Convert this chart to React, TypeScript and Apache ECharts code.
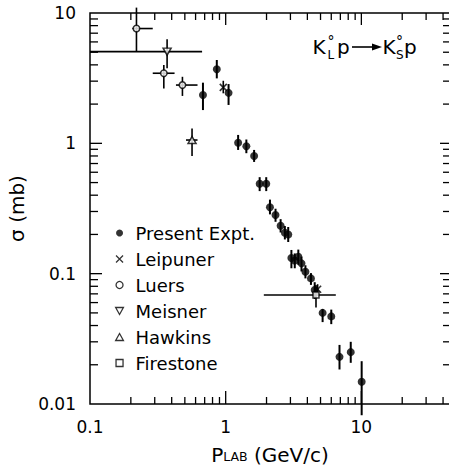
import React, { useEffect, useRef } from "react";
import * as echarts from "echarts";

const FONT = '"DejaVu Sans", "Liberation Sans", sans-serif';
const INK = "#000";

// Axis ranges (log-log)
const X_MIN = 0.1;
const X_MAX = 45;
const Y_MIN = 0.01;
const Y_MAX = 10;

// Labelled decades and the multiples that get tick marks
const X_TICK_LABELS = ["0.1", "1", "10"];
const Y_TICK_LABELS = ["0.01", "0.1", "1", "10"];
const X_DECADES = [0.1, 1, 10];
const Y_DECADES = [0.01, 0.1, 1];
const MULTIPLES = [1, 2, 3, 4, 5, 6, 7, 8, 9];

const SERIES_NAMES = ["Present Expt.", "Leipuner", "Luers", "Meisner", "Hawkins", "Firestone"];

// Present experiment: P_lab (GeV/c), sigma (mb), error band low/high
const presentP = [0.68, 0.86, 1.05, 1.235, 1.42, 1.62, 1.78, 1.99, 2.12, 2.33, 2.54, 2.73, 2.89, 3.05, 3.23, 3.43, 3.62, 3.87, 4.25, 4.53, 5.18, 6.0, 6.9, 8.35, 10.05];
const presentSigma = [2.35, 3.7, 2.44, 1.01, 0.95, 0.8, 0.49, 0.49, 0.323, 0.282, 0.233, 0.206, 0.2, 0.132, 0.126, 0.135, 0.12, 0.1035, 0.092, 0.075, 0.05, 0.047, 0.023, 0.025, 0.0148];
const presentLo = [1.8, 3.15, 1.97, 0.89, 0.84, 0.72, 0.43, 0.43, 0.285, 0.25, 0.207, 0.183, 0.175, 0.11, 0.11, 0.117, 0.104, 0.092, 0.082, 0.064, 0.0425, 0.041, 0.0184, 0.0207, 0.0082];
const presentHi = [2.92, 4.36, 2.85, 1.16, 1.07, 0.89, 0.55, 0.55, 0.37, 0.315, 0.262, 0.232, 0.228, 0.152, 0.143, 0.153, 0.135, 0.116, 0.101, 0.086, 0.0535, 0.053, 0.0284, 0.03, 0.0213];

// Leipuner
const leipP = [0.96, 4.76];
const leipSigma = [2.69, 0.076];
const leipLo = [2.42, 0.07];
const leipHi = [3.02, 0.083];

// Luers (with momentum bins)
const luersP = [0.22, 0.35, 0.48];
const luersSigma = [7.6, 3.45, 2.8];
const luersLo = [5.05, 2.64, 2.31];
const luersHi = [11, 3.99, 3.24];
const luersPLo = [0.205, 0.29, 0.43];
const luersPHi = [0.29, 0.42, 0.62];

// Meisner
const meisP = [0.37];
const meisSigma = [5.05];
const meisLo = [3.76];
const meisHi = [6.3];
const meisPLo = [0.1];
const meisPHi = [0.67];

// Hawkins
const hawkP = [0.565];
const hawkSigma = [1.06];
const hawkLo = [0.8];
const hawkHi = [1.3];
const hawkPLo = [0.51];
const hawkPHi = [0.62];

// Firestone
const fireP = [4.63];
const fireSigma = [0.0686];
const fireLo = [0.055];
const fireHi = [0.082];
const firePLo = [1.91];
const firePHi = [6.48];

const pairs = (xs: number[], ys: number[]) => xs.map((x, i) => [x, ys[i]]);

// rows: [p, sigma, sigmaLo, sigmaHi, pLo, pHi, lineWidth]
function errorRows(
  p: number[], s: number[], lo: number[], hi: number[],
  plo: number[] | null, phi: number[] | null, w: number
) {
  return p.map((x, i) => [x, s[i], lo[i], hi[i], plo ? plo[i] : 0, phi ? phi[i] : 0, w]);
}

const ERROR_ROWS = [
  ...errorRows(presentP, presentSigma, presentLo, presentHi, null, null, 2),
  ...errorRows(leipP, leipSigma, leipLo, leipHi, null, null, 1.6),
  ...errorRows(luersP, luersSigma, luersLo, luersHi, luersPLo, luersPHi, 1.6),
  ...errorRows(meisP, meisSigma, meisLo, meisHi, meisPLo, meisPHi, 1.6),
  ...errorRows(hawkP, hawkSigma, hawkLo, hawkHi, hawkPLo, hawkPHi, 1.6),
  ...errorRows(fireP, fireSigma, fireLo, fireHi, firePLo, firePHi, 1.6),
];

// tick rows: [x, y, kind (0 = x tick, 1 = y tick), major]
function tickRows() {
  const rows: number[][] = [];
  for (const d of X_DECADES)
    for (const m of MULTIPLES) {
      const v = +(d * m).toPrecision(6);
      if (v > X_MIN * 1.0001 && v < X_MAX) rows.push([v, 1, 0, m === 1 ? 1 : 0]);
    }
  for (const d of Y_DECADES)
    for (const m of MULTIPLES) {
      const v = +(d * m).toPrecision(6);
      if (v > Y_MIN * 1.0001 && v < Y_MAX * 0.9999) rows.push([1, v, 1, m === 1 ? 1 : 0]);
    }
  return rows;
}

const labelFor = (labels: string[]) => (v: number) => {
  const hit = labels.find((l) => Math.abs(parseFloat(l) - v) / parseFloat(l) < 1e-6);
  return hit ?? "";
};

const openStyle = { color: "#fff", borderColor: INK, borderWidth: 1.5 };

// marker outlines
const CROSS = "path://M0,0L10,10M10,0L0,10";
const TRI_DOWN = "path://M0,0L10,0L5,9Z";
const TRI_UP = "path://M5,0L10,9L0,9Z";
const SQUARE = "path://M0,0L10,0L10,10L0,10Z";

export default function App() {
  const ref = useRef<HTMLDivElement>(null);

  useEffect(() => {
    if (!ref.current) return;
    const chart = echarts.init(ref.current, null, { renderer: "svg" });

    const text = (x: number, y: number, t: string, size: number, va = "middle", lh?: number) => ({
      type: "text",
      x,
      y,
      silent: true,
      style: {
        text: t,
        fontSize: size,
        fontFamily: FONT,
        fill: INK,
        verticalAlign: va,
        ...(lh ? { lineHeight: lh } : {}),
      },
    });

    const option: any = {
      animation: false,
      backgroundColor: "#fff",
      textStyle: { fontFamily: FONT, color: INK },
      grid: {
        left: 90,
        top: 13,
        right: -1,
        bottom: 62,
        show: true,
        borderColor: INK,
        borderWidth: 1.5,
        backgroundColor: "transparent",
        containLabel: false,
        outerBoundsMode: "none",
      },
      xAxis: {
        type: "log",
        logBase: 10,
        min: X_MIN,
        max: X_MAX,
        axisLine: { show: false },
        axisTick: { show: false },
        minorTick: { show: false },
        splitLine: { show: false },
        axisLabel: {
          margin: 14,
          fontSize: 17,
          fontFamily: FONT,
          color: INK,
          formatter: labelFor(X_TICK_LABELS),
        },
        name: "{p|P}{sub|LAB}{n| (GeV/c)}",
        nameLocation: "middle",
        nameGap: 42,
        nameTextStyle: {
          rich: {
            p: { fontSize: 20, fontFamily: FONT, color: INK, lineHeight: 17 },
            sub: { fontSize: 12.5, fontFamily: FONT, color: INK, lineHeight: 10, verticalAlign: "bottom" },
            n: { fontSize: 20, fontFamily: FONT, color: INK, lineHeight: 17 },
          },
        },
      },
      yAxis: {
        type: "log",
        logBase: 10,
        min: Y_MIN,
        max: Y_MAX,
        axisLine: { show: false },
        axisTick: { show: false },
        minorTick: { show: false },
        splitLine: { show: false },
        axisLabel: {
          margin: 14,
          fontSize: 17,
          fontFamily: FONT,
          color: INK,
          formatter: labelFor(Y_TICK_LABELS),
        },
        name: "σ (mb)",
        nameLocation: "middle",
        nameRotate: 90,
        nameGap: 60,
        nameTextStyle: { fontSize: 20, fontFamily: FONT, color: INK },
      },
      legend: {
        orient: "vertical",
        left: 110,
        top: 219,
        itemWidth: 22,
        itemHeight: 7,
        itemGap: 8,
        selectedMode: false,
        symbolKeepAspect: true,
        data: SERIES_NAMES,
        itemStyle: { borderWidth: 1.3 },
        textStyle: { fontSize: 18, fontFamily: FONT, color: INK, lineHeight: 18 },
      },
      series: [
        {
          type: "custom",
          name: "ticks",
          silent: true,
          z: 1,
          encode: { x: 0, y: 1 },
          data: tickRows(),
          renderItem: (params: any, api: any) => {
            const cs = params.coordSys;
            const kind = api.value(2);
            const major = api.value(3) === 1;
            const st = { stroke: INK, lineWidth: 1.3 };
            if (kind === 0) {
              const x = api.coord([api.value(0), 1])[0];
              const b = cs.y + cs.height;
              const lb = major ? 13 : 7;
              const lt = major ? 12 : 7;
              return {
                type: "group",
                children: [
                  { type: "line", shape: { x1: x, y1: b, x2: x, y2: b - lb }, style: st },
                  { type: "line", shape: { x1: x, y1: cs.y, x2: x, y2: cs.y + lt }, style: st },
                ],
              };
            }
            const y = api.coord([1, api.value(1)])[1];
            const r = cs.x + cs.width;
            const ll = major ? 12 : 8;
            const lr = major ? 10 : 7;
            return {
              type: "group",
              children: [
                { type: "line", shape: { x1: cs.x, y1: y, x2: cs.x + ll, y2: y }, style: st },
                { type: "line", shape: { x1: r, y1: y, x2: r - lr, y2: y }, style: st },
              ],
            };
          },
        },
        {
          type: "custom",
          name: "error bars",
          silent: true,
          clip: false,
          z: 2,
          encode: { x: 0, y: 1 },
          data: ERROR_ROWS,
          renderItem: (_params: any, api: any) => {
            const p = api.value(0);
            const s = api.value(1);
            const w = api.value(6);
            const a = api.coord([p, api.value(2)]);
            const b = api.coord([p, api.value(3)]);
            const st = { stroke: INK, lineWidth: w };
            const children: any[] = [
              { type: "line", shape: { x1: a[0], y1: a[1], x2: b[0], y2: b[1] }, style: st },
            ];
            const plo = api.value(4);
            const phi = api.value(5);
            if (plo > 0 && phi > 0) {
              const c = api.coord([plo, s]);
              const d = api.coord([phi, s]);
              children.push({
                type: "line",
                shape: { x1: c[0], y1: c[1], x2: d[0], y2: d[1] },
                style: { stroke: INK, lineWidth: 1.6 },
              });
            }
            return { type: "group", children };
          },
        },
        {
          type: "scatter",
          name: "Present Expt.",
          z: 4,
          silent: true,
          symbol: "circle",
          symbolSize: 8,
          itemStyle: { color: INK },
          data: pairs(presentP, presentSigma),
        },
        {
          type: "scatter",
          name: "Leipuner",
          z: 4,
          silent: true,
          symbol: CROSS,
          symbolSize: 7,
          itemStyle: { color: "rgba(0,0,0,0)", borderColor: INK, borderWidth: 1.6 },
          data: pairs(leipP, leipSigma),
        },
        {
          type: "scatter",
          name: "Luers",
          z: 4,
          silent: true,
          symbol: "circle",
          symbolSize: 6.5,
          itemStyle: openStyle,
          data: pairs(luersP, luersSigma),
        },
        {
          type: "scatter",
          name: "Meisner",
          z: 4,
          silent: true,
          symbol: TRI_DOWN,
          symbolSize: [8, 7],
          itemStyle: openStyle,
          data: pairs(meisP, meisSigma),
        },
        {
          type: "scatter",
          name: "Hawkins",
          z: 4,
          silent: true,
          symbol: TRI_UP,
          symbolSize: [8, 7],
          itemStyle: openStyle,
          data: pairs(hawkP, hawkSigma),
        },
        {
          type: "scatter",
          name: "Firestone",
          z: 4,
          silent: true,
          symbol: SQUARE,
          symbolSize: 6,
          itemStyle: openStyle,
          data: pairs(fireP, fireSigma),
        },
      ],
      graphic: [
        text(312.5, 47, "K", 20, "middle", 16),
        text(327.5, 35.5, "°", 14, "top", 10),
        text(327.5, 55, "L", 12, "middle", 10),
        text(337, 47, "p", 20, "middle", 16),
        { type: "line", silent: true, shape: { x1: 352, y1: 47, x2: 374, y2: 47 }, style: { stroke: INK, lineWidth: 1.6 } },
        { type: "polygon", silent: true, shape: { points: [[372, 43.5], [382, 47], [372, 50.5]] }, style: { fill: INK } },
        text(382.5, 47, "K", 20, "middle", 16),
        text(396, 35.5, "°", 14, "top", 10),
        text(396, 55, "S", 12, "middle", 10),
        text(404, 47, "p", 20, "middle", 16),
      ],
    };

    chart.setOption(option);
    return () => chart.dispose();
  }, []);

  return (
    <div
      ref={ref}
      style={{ position: "fixed", left: 0, top: 0, width: 449, height: 466, background: "#fff" }}
    />
  );
}
